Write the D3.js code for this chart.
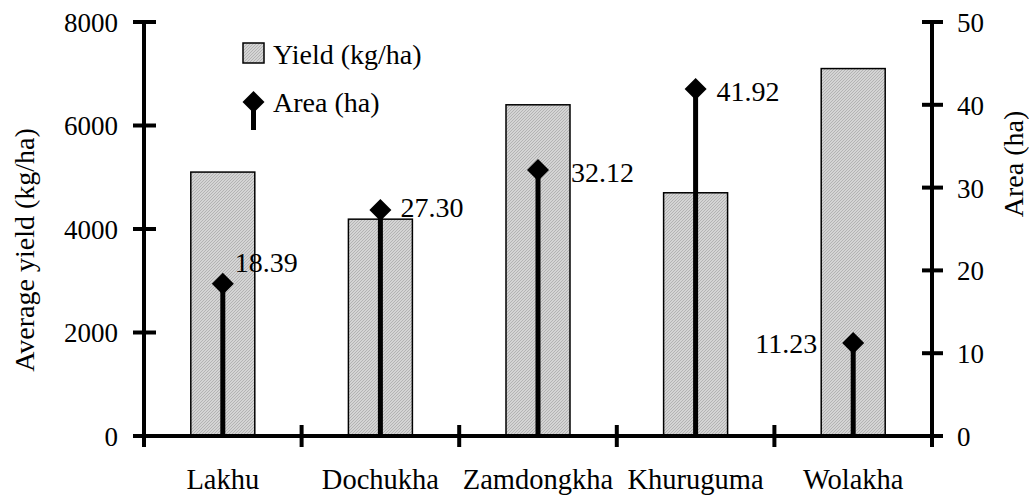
<!DOCTYPE html>
<html>
<head>
<meta charset="utf-8">
<script src="https://cdn.jsdelivr.net/npm/d3@7"></script>
<style>
  html, body { margin: 0; padding: 0; background: #fff; }
  svg { display: block; }
  text { font-family: "Liberation Serif", "Times New Roman", serif; fill: #000; }
</style>
</head>
<body>
<svg id="chart" width="1029" height="501"></svg>
<script>
// Villages
const categories = ["Lakhu", "Dochukha", "Zamdongkha", "Khuruguma", "Wolakha"];
// Average yield (kg/ha), left axis
const yieldValues = [5100, 4190, 6400, 4700, 7100];
// Area (ha), right axis
const areaValues = [18.39, 27.30, 32.12, 41.92, 11.23];
// Tick labels
const yieldTicks = [0, 2000, 4000, 6000, 8000];
const areaTicks = [0, 10, 20, 30, 40, 50];

const svg = d3.select("#chart");
const plotLeft = 144, plotRight = 932, plotTop = 22, plotBottom = 436;
const tickFont = 27, textFont = 28, catFont = 28.5;

// fine hatched grey fill for the bars
const defs = svg.append("defs");
const pat = defs.append("pattern")
  .attr("id", "hatch").attr("patternUnits", "userSpaceOnUse")
  .attr("width", 3).attr("height", 3);
pat.append("rect").attr("width", 3).attr("height", 3).attr("fill", "#d4d4d4");
pat.append("path").attr("d", "M0,3 L3,0 M-1,1 L1,-1 M2,4 L4,2")
  .attr("stroke", "#ababab").attr("stroke-width", 0.8);

const x = d3.scaleBand().domain(categories).range([plotLeft, plotRight]).paddingInner(0).paddingOuter(0);
const yL = d3.scaleLinear().domain([0, 8000]).range([plotBottom, plotTop]);
const yR = d3.scaleLinear().domain([0, 50]).range([plotBottom, plotTop]);

const barW = x.bandwidth() * 0.406;

// bars
svg.append("g").selectAll("rect").data(categories).join("rect")
  .attr("x", (d) => x(d) + x.bandwidth() / 2 - barW / 2)
  .attr("y", (d, i) => yL(yieldValues[i]))
  .attr("width", barW)
  .attr("height", (d, i) => plotBottom - yL(yieldValues[i]))
  .attr("fill", "url(#hatch)")
  .attr("stroke", "#000").attr("stroke-width", 1.5);

// axes
const axisG = svg.append("g");
const leftAxis = d3.axisLeft(yL).tickValues(yieldTicks).tickSize(0).tickPadding(0).tickFormat(d3.format("d"));
const rightAxis = d3.axisRight(yR).tickValues(areaTicks).tickSize(0).tickPadding(0);

const gl = axisG.append("g").attr("transform", `translate(${plotLeft},0)`).call(leftAxis);
gl.select(".domain").remove();
gl.selectAll(".tick line").remove();
gl.selectAll(".tick text").attr("x", -26).attr("dy", "0.35em")
  .style("font-size", tickFont + "px").style("font-family", "Liberation Serif");

const gr = axisG.append("g").attr("transform", `translate(${plotRight},0)`).call(rightAxis);
gr.select(".domain").remove();
gr.selectAll(".tick line").remove();
gr.selectAll(".tick text").attr("x", 25).attr("dy", "0.35em")
  .style("font-size", tickFont + "px").style("font-family", "Liberation Serif");

const lw = 4;
// vertical axis lines
[plotLeft, plotRight].forEach((xx) => {
  axisG.append("line").attr("x1", xx).attr("x2", xx).attr("y1", plotTop).attr("y2", plotBottom + 11)
    .attr("stroke", "#000").attr("stroke-width", lw);
});
// horizontal tick marks
yieldTicks.forEach((t) => {
  axisG.append("line").attr("x1", plotLeft - 11).attr("x2", plotLeft + 12).attr("y1", yL(t)).attr("y2", yL(t))
    .attr("stroke", "#000").attr("stroke-width", lw);
});
areaTicks.forEach((t) => {
  axisG.append("line").attr("x1", plotRight - 10).attr("x2", plotRight + 11).attr("y1", yR(t)).attr("y2", yR(t))
    .attr("stroke", "#000").attr("stroke-width", lw);
});
// category axis
axisG.append("line").attr("x1", plotLeft - 11).attr("x2", plotRight + 10).attr("y1", plotBottom).attr("y2", plotBottom)
  .attr("stroke", "#000").attr("stroke-width", lw);
const bounds = categories.map((c) => x(c)).concat([plotRight]);
bounds.forEach((bx) => {
  axisG.append("line").attr("x1", bx).attr("x2", bx).attr("y1", plotBottom - 11).attr("y2", plotBottom + 11)
    .attr("stroke", "#000").attr("stroke-width", lw);
});
axisG.append("g").selectAll("text").data(categories).join("text")
  .attr("x", (d) => x(d) + x.bandwidth() / 2)
  .attr("y", 489)
  .attr("text-anchor", "middle")
  .style("font-size", catFont + "px")
  .text((d) => d);

// axis titles
svg.append("text")
  .attr("transform", "translate(34,250) rotate(-90)")
  .attr("text-anchor", "middle")
  .style("font-size", textFont + "px")
  .text("Average yield (kg/ha)");
svg.append("text")
  .attr("transform", "translate(1023,164) rotate(-90)")
  .attr("text-anchor", "middle")
  .style("font-size", textFont + "px")
  .text("Area (ha)");

// area stems and diamond markers
const diamond = (s) => `M0,${-s} L${s},0 L0,${s} L${-s},0 Z`;
const cx = (d) => x(d) + x.bandwidth() / 2;
const ptG = svg.append("g");
ptG.selectAll("line").data(categories).join("line")
  .attr("x1", cx).attr("x2", cx)
  .attr("y1", (d, i) => yR(areaValues[i])).attr("y2", plotBottom)
  .attr("stroke", "#000").attr("stroke-width", 5);
ptG.selectAll("path").data(categories).join("path")
  .attr("transform", (d, i) => `translate(${cx(d)},${yR(areaValues[i])})`)
  .attr("d", diamond(11)).attr("fill", "#000");

// value labels, placed beside each marker
const labelPlace = [
  { dx: 12, dy: -22, anchor: "start" },
  { dx: 20, dy: -3, anchor: "start" },
  { dx: 33, dy: 2, anchor: "start" },
  { dx: 21, dy: 2, anchor: "start" },
  { dx: -36, dy: 0, anchor: "end" }
];
ptG.selectAll("text").data(categories).join("text")
  .attr("x", (d, i) => cx(d) + labelPlace[i].dx)
  .attr("y", (d, i) => yR(areaValues[i]) + labelPlace[i].dy)
  .attr("dy", "0.35em")
  .attr("text-anchor", (d, i) => labelPlace[i].anchor)
  .style("font-size", textFont + "px")
  .text((d, i) => areaValues[i].toFixed(2));

// legend
const lg = svg.append("g");
lg.append("rect").attr("x", 243).attr("y", 43).attr("width", 21).attr("height", 20)
  .attr("fill", "url(#hatch)").attr("stroke", "#000").attr("stroke-width", 1.5);
lg.append("text").attr("x", 273).attr("y", 64).style("font-size", textFont + "px").text("Yield (kg/ha)");
lg.append("line").attr("x1", 253.5).attr("x2", 253.5).attr("y1", 102).attr("y2", 130)
  .attr("stroke", "#000").attr("stroke-width", 5);
lg.append("path").attr("transform", "translate(253.5,102)").attr("d", diamond(11)).attr("fill", "#000");
lg.append("text").attr("x", 273).attr("y", 112).style("font-size", textFont + "px").text("Area (ha)");
</script>
</body>
</html>
